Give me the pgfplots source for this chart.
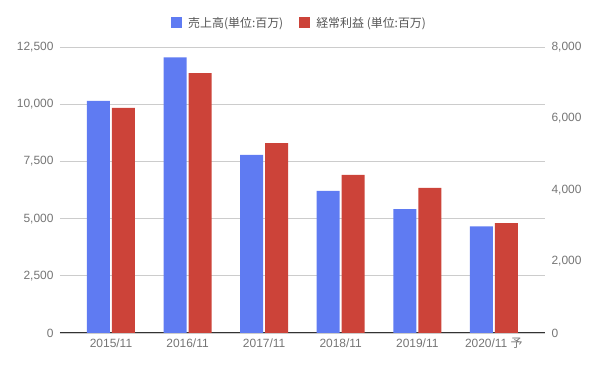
\documentclass[border=0pt]{standalone}
\usepackage{fontspec}
\setmainfont{Liberation Sans}
\newfontfamily\jp{Noto Sans CJK JP}
\usepackage{pgfplots}
\pgfplotsset{compat=1.18}
\definecolor{cblue}{HTML}{5F7BF2}
\definecolor{cred}{HTML}{CC4339}
\definecolor{tgray}{HTML}{757575}
\definecolor{lgray}{HTML}{555555}
\definecolor{ggray}{HTML}{CCCCCC}
\definecolor{bline}{HTML}{333333}
\begin{document}
\begin{tikzpicture}
\path[use as bounding box] (0,0) rectangle (597bp,368bp);
\pgfplotsset{
  common/.style={
    at={(60bp,35bp)}, anchor=south west,
    scale only axis, width=485bp, height=286bp,
    xmin=-0.666, xmax=5.668,
    xtick={0,1,2,3,4,5},
    major tick length=0pt,
    tick style={draw=none},
    scaled y ticks=false,
    /pgf/number format/assume math mode=true,
    /pgf/number format/1000 sep={,},
    /pgf/number format/fixed,
    tick label style={color=tgray, font=\fontsize{12}{14}\selectfont},
  }
}
\begin{axis}[common,
  ymin=0, ymax=12500, ytick={0,2500,5000,7500,10000,12500},
  axis lines*=left,
  y axis line style={draw=none},
  x axis line style={color=bline, line width=1bp},
  ymajorgrids, grid style={ggray, line width=0.8bp},
  yticklabel style={xshift=-3bp},
  xticklabel style={yshift=-2bp},
  xticklabels={2015/11,2016/11,2017/11,2018/11,2019/11,{2020/11 {\jp 予}}},
]
\addplot[ybar, bar width=23bp, bar shift=-12.5bp, fill=cblue, draw=none]
  coordinates {(0,10150) (1,12050) (2,7780) (3,6210) (4,5410) (5,4660)};
\end{axis}
\begin{axis}[common,
  ymin=0, ymax=8000, ytick={0,2000,4000,6000,8000},
  axis x line=none, axis y line*=right,
  y axis line style={draw=none},
  yticklabel style={xshift=3bp},
  legend style={at={(0.494,1.084)}, anchor=center, draw=none, fill=none,
    legend columns=2, font=\jp\fontsize{12}{14}\selectfont, text=lgray,
    /tikz/every odd column/.append style={column sep=4bp},
    /tikz/every even column/.append style={column sep=14bp}},
  legend image code/.code={\fill[#1] (0bp,-5.5bp) rectangle (11bp,5.5bp);},
]
\addlegendimage{fill=cblue, draw=none}
\addlegendentry{売上高(単位:百万)}
\addplot[ybar, bar width=23bp, bar shift=12.5bp, fill=cred, draw=none]
  coordinates {(0,6300) (1,7270) (2,5310) (3,4420) (4,4060) (5,3070)};
\addlegendentry{経常利益 (単位:百万)}
\end{axis}
\end{tikzpicture}
\end{document}
